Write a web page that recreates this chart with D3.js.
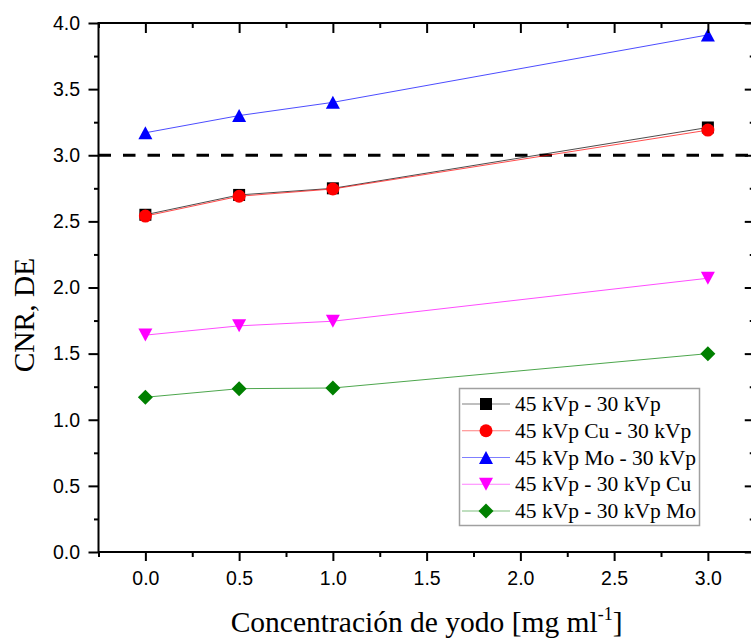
<!DOCTYPE html>
<html>
<head>
<meta charset="utf-8">
<script src="https://cdn.jsdelivr.net/npm/d3@7"></script>
<style>
  html, body { margin: 0; padding: 0; background: #fff; }
  svg { display: block; }
</style>
</head>
<body>
<svg id="chart" width="751" height="642"></svg>
<script>
// Iodine concentration (mg/ml) on the x axis
const concentrations = [0.0, 0.5, 1.0, 3.0];

// CNR (dual-energy) for each acquisition combination
const seriesNames = [
  "45 kVp - 30 kVp",
  "45 kVp Cu - 30 kVp",
  "45 kVp Mo - 30 kVp",
  "45 kVp - 30 kVp Cu",
  "45 kVp - 30 kVp Mo"
];
const cnr45_30     = [2.55, 2.70, 2.75, 3.21];
const cnr45Cu_30   = [2.54, 2.69, 2.745, 3.19];
const cnr45Mo_30   = [3.17, 3.30, 3.40, 3.91];
const cnr45_30Cu   = [1.64, 1.71, 1.745, 2.07];
const cnr45_30Mo   = [1.17, 1.235, 1.24, 1.50];

// Reference threshold line
const thresholdValue = 3.0;

// Axis ticks
const xTickValues = [0.0, 0.5, 1.0, 1.5, 2.0, 2.5, 3.0];
const xMinorTicks = [-0.25, 0.25, 0.75, 1.25, 1.75, 2.25, 2.75, 3.25];
const yTickValues = [0.0, 0.5, 1.0, 1.5, 2.0, 2.5, 3.0, 3.5, 4.0];
const yMinorTicks = [0.25, 0.75, 1.25, 1.75, 2.25, 2.75, 3.25, 3.75];

const seriesValues = [cnr45_30, cnr45Cu_30, cnr45Mo_30, cnr45_30Cu, cnr45_30Mo];
const seriesColors = ["#000000", "#ff0000", "#0000ff", "#ff00ff", "#008000"];
const seriesShapes = ["square", "circle", "triangleUp", "triangleDown", "diamond"];

const svg = d3.select("#chart");

const plotLeft = 98.5, plotRight = 754.75, plotTop = 23, plotBottom = 552;
const x = d3.scaleLinear().domain([-0.25, 3.25]).range([plotLeft, plotRight]);
const y = d3.scaleLinear().domain([0, 4]).range([plotBottom, plotTop]);

const tickFont = "'Liberation Sans', Arial, sans-serif";
const serifFont = "'Liberation Serif', 'Times New Roman', serif";

// Marker shapes, centred on their bounding box
function shapePath(kind) {
  switch (kind) {
    case "square": return "M-6,-6H6V6H-6Z";
    case "circle": return d3.symbol(d3.symbolCircle, Math.PI * 6.5 * 6.5)();
    case "triangleUp": return "M0,-6.5L7,6.5L-7,6.5Z";
    case "triangleDown": return "M0,6.5L7,-6.5L-7,-6.5Z";
    case "diamond": return "M0,-7.5L7.5,0L0,7.5L-7.5,0Z";
  }
}

// Threshold dashed line (drawn beneath the series)
svg.append("line")
  .attr("x1", x(-0.25)).attr("x2", x(3.25))
  .attr("y1", y(thresholdValue)).attr("y2", y(thresholdValue))
  .attr("stroke", "#000").attr("stroke-width", 3)
  .attr("stroke-dasharray", "12.5,12");

// Series lines and markers
const line = d3.line().x((d, i) => x(concentrations[i])).y(d => y(d));
seriesValues.forEach((vals, s) => {
  const g = svg.append("g");
  g.append("path")
    .attr("d", line(vals))
    .attr("fill", "none")
    .attr("stroke", seriesColors[s])
    .attr("stroke-opacity", 0.7)
    .attr("stroke-width", 1);
  g.selectAll("path.m").data(vals).join("path")
    .attr("class", "m")
    .attr("d", shapePath(seriesShapes[s]))
    .attr("transform", (d, i) => `translate(${x(concentrations[i])},${y(d)})`)
    .attr("fill", seriesColors[s]);
});

// Axes: labelled bottom/left with outward ticks, mirrored top/right with inward ticks
function styleAxis(g) {
  g.select(".domain").remove();
  g.selectAll(".tick line").attr("stroke", "#000").attr("stroke-width", 2);
  g.selectAll(".tick text").attr("fill", "#000")
    .style("font-family", tickFont).style("font-size", "19.5px");
}
const fmt = d3.format(".1f");

svg.append("g").attr("transform", `translate(0,${plotBottom})`)
  .call(d3.axisBottom(x).tickValues(xTickValues).tickFormat(fmt).tickSize(9).tickPadding(10))
  .call(styleAxis);
svg.append("g").attr("transform", `translate(0,${plotBottom})`)
  .call(d3.axisBottom(x).tickValues(xMinorTicks).tickFormat("").tickSize(5))
  .call(styleAxis);
svg.append("g").attr("transform", `translate(0,${plotTop})`)
  .call(d3.axisTop(x).tickValues(xTickValues).tickFormat("").tickSize(-10))
  .call(styleAxis);
svg.append("g").attr("transform", `translate(0,${plotTop})`)
  .call(d3.axisTop(x).tickValues(xMinorTicks).tickFormat("").tickSize(-5))
  .call(styleAxis);

svg.append("g").attr("transform", `translate(${plotLeft},0)`)
  .call(d3.axisLeft(y).tickValues(yTickValues).tickFormat(fmt).tickSize(10).tickPadding(8.5))
  .call(styleAxis);
svg.append("g").attr("transform", `translate(${plotLeft},0)`)
  .call(d3.axisLeft(y).tickValues(yMinorTicks).tickFormat("").tickSize(4.5))
  .call(styleAxis);
svg.append("g").attr("transform", `translate(${plotRight},0)`)
  .call(d3.axisRight(y).tickValues(yTickValues).tickFormat("").tickSize(-10))
  .call(styleAxis);
svg.append("g").attr("transform", `translate(${plotRight},0)`)
  .call(d3.axisRight(y).tickValues(yMinorTicks).tickFormat("").tickSize(-5))
  .call(styleAxis);

// Plot frame
svg.append("rect")
  .attr("x", plotLeft).attr("y", plotTop)
  .attr("width", plotRight - plotLeft).attr("height", plotBottom - plotTop)
  .attr("fill", "none").attr("stroke", "#000").attr("stroke-width", 2);

// Axis titles
svg.append("text")
  .attr("transform", `translate(34,315) rotate(-90)`)
  .attr("text-anchor", "middle")
  .style("font-family", serifFont).style("font-size", "29.5px")
  .text("CNR, DE");

const xt = svg.append("text")
  .attr("x", (plotLeft + plotRight) / 2).attr("y", 632)
  .attr("text-anchor", "middle")
  .style("font-family", serifFont).style("font-size", "29.5px");
xt.append("tspan").text("Concentración de yodo [mg ml");
xt.append("tspan").attr("dy", -12).style("font-size", "18px").text("-1");
xt.append("tspan").attr("dy", 12).text("]");

// Legend
const legend = svg.append("g");
legend.append("rect")
  .attr("x", 459.5).attr("y", 388.5).attr("width", 240).attr("height", 137)
  .attr("fill", "#fff").attr("stroke", "#a0a0a0").attr("stroke-width", 1.5);
seriesNames.forEach((name, s) => {
  const cy = 404 + s * 26.75;
  legend.append("line")
    .attr("x1", 462).attr("x2", 510).attr("y1", cy).attr("y2", cy)
    .attr("stroke", seriesColors[s]).attr("stroke-opacity", 0.5).attr("stroke-width", 1);
  legend.append("path")
    .attr("d", shapePath(seriesShapes[s]))
    .attr("transform", `translate(486,${cy})`)
    .attr("fill", seriesColors[s]);
  legend.append("text")
    .attr("x", 515).attr("y", cy + 7)
    .style("font-family", serifFont).style("font-size", "21.5px")
    .text(name);
});
</script>
</body>
</html>
